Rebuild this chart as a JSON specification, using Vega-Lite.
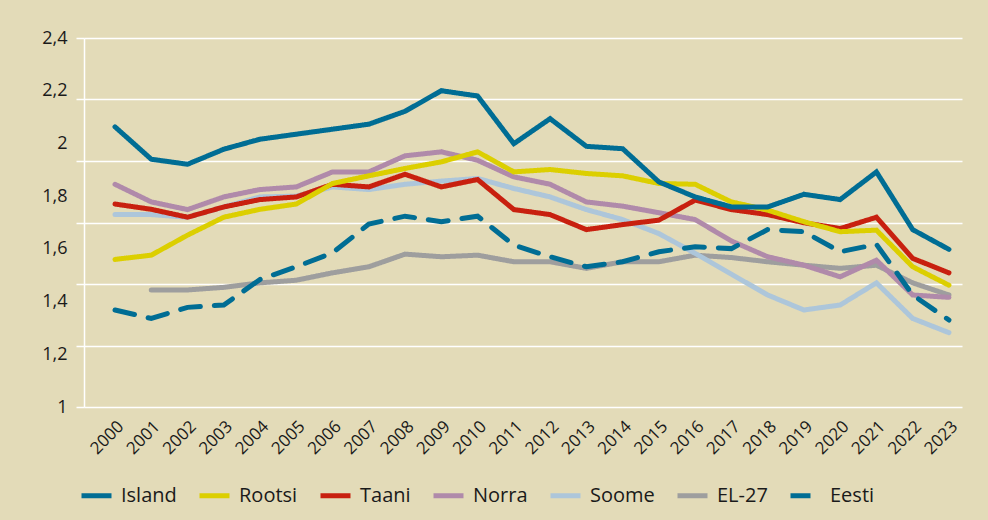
{
  "$schema": "https://vega.github.io/schema/vega-lite/v6.json",
  "width": 878,
  "height": 369,
  "autosize": {"type": "none"},
  "padding": {"left": 84, "top": 38, "right": 26, "bottom": 113},
  "background": "#e3dbb8",
  "config": {"view": {"stroke": null}, "font": "Open Sans"},
  "data": {"values": [
    {"country":"EL-27","year":2001,"value":1.444},{"country":"EL-27","year":2002,"value":1.444},{"country":"EL-27","year":2003,"value":1.454},{"country":"EL-27","year":2004,"value":1.471},{"country":"EL-27","year":2005,"value":1.481},{"country":"EL-27","year":2006,"value":1.509},{"country":"EL-27","year":2007,"value":1.532},{"country":"EL-27","year":2008,"value":1.58},{"country":"EL-27","year":2009,"value":1.57},{"country":"EL-27","year":2010,"value":1.576},{"country":"EL-27","year":2011,"value":1.551},{"country":"EL-27","year":2012,"value":1.551},{"country":"EL-27","year":2013,"value":1.526},{"country":"EL-27","year":2014,"value":1.551},{"country":"EL-27","year":2015,"value":1.551},{"country":"EL-27","year":2016,"value":1.576},{"country":"EL-27","year":2017,"value":1.567},{"country":"EL-27","year":2018,"value":1.551},{"country":"EL-27","year":2019,"value":1.538},{"country":"EL-27","year":2020,"value":1.526},{"country":"EL-27","year":2021,"value":1.538},{"country":"EL-27","year":2022,"value":1.471},{"country":"EL-27","year":2023,"value":1.425},
    {"country":"Soome","year":2000,"value":1.73},{"country":"Soome","year":2001,"value":1.73},{"country":"Soome","year":2002,"value":1.72},{"country":"Soome","year":2003,"value":1.759},{"country":"Soome","year":2004,"value":1.797},{"country":"Soome","year":2005,"value":1.8},{"country":"Soome","year":2006,"value":1.835},{"country":"Soome","year":2007,"value":1.825},{"country":"Soome","year":2008,"value":1.845},{"country":"Soome","year":2009,"value":1.857},{"country":"Soome","year":2010,"value":1.867},{"country":"Soome","year":2011,"value":1.829},{"country":"Soome","year":2012,"value":1.797},{"country":"Soome","year":2013,"value":1.749},{"country":"Soome","year":2014,"value":1.711},{"country":"Soome","year":2015,"value":1.658},{"country":"Soome","year":2016,"value":1.583},{"country":"Soome","year":2017,"value":1.504},{"country":"Soome","year":2018,"value":1.425},{"country":"Soome","year":2019,"value":1.368},{"country":"Soome","year":2020,"value":1.387},{"country":"Soome","year":2021,"value":1.471},{"country":"Soome","year":2022,"value":1.336},{"country":"Soome","year":2023,"value":1.282},
    {"country":"Norra","year":2000,"value":1.845},{"country":"Norra","year":2001,"value":1.778},{"country":"Norra","year":2002,"value":1.749},{"country":"Norra","year":2003,"value":1.797},{"country":"Norra","year":2004,"value":1.825},{"country":"Norra","year":2005,"value":1.835},{"country":"Norra","year":2006,"value":1.892},{"country":"Norra","year":2007,"value":1.892},{"country":"Norra","year":2008,"value":1.953},{"country":"Norra","year":2009,"value":1.968},{"country":"Norra","year":2010,"value":1.936},{"country":"Norra","year":2011,"value":1.873},{"country":"Norra","year":2012,"value":1.845},{"country":"Norra","year":2013,"value":1.778},{"country":"Norra","year":2014,"value":1.762},{"country":"Norra","year":2015,"value":1.737},{"country":"Norra","year":2016,"value":1.711},{"country":"Norra","year":2017,"value":1.63},{"country":"Norra","year":2018,"value":1.57},{"country":"Norra","year":2019,"value":1.538},{"country":"Norra","year":2020,"value":1.494},{"country":"Norra","year":2021,"value":1.557},{"country":"Norra","year":2022,"value":1.425},{"country":"Norra","year":2023,"value":1.416},
    {"country":"Taani","year":2000,"value":1.77},{"country":"Taani","year":2001,"value":1.75},{"country":"Taani","year":2002,"value":1.72},{"country":"Taani","year":2003,"value":1.759},{"country":"Taani","year":2004,"value":1.787},{"country":"Taani","year":2005,"value":1.797},{"country":"Taani","year":2006,"value":1.845},{"country":"Taani","year":2007,"value":1.835},{"country":"Taani","year":2008,"value":1.883},{"country":"Taani","year":2009,"value":1.835},{"country":"Taani","year":2010,"value":1.863},{"country":"Taani","year":2011,"value":1.749},{"country":"Taani","year":2012,"value":1.73},{"country":"Taani","year":2013,"value":1.673},{"country":"Taani","year":2014,"value":1.692},{"country":"Taani","year":2015,"value":1.709},{"country":"Taani","year":2016,"value":1.785},{"country":"Taani","year":2017,"value":1.749},{"country":"Taani","year":2018,"value":1.73},{"country":"Taani","year":2019,"value":1.699},{"country":"Taani","year":2020,"value":1.677},{"country":"Taani","year":2021,"value":1.72},{"country":"Taani","year":2022,"value":1.564},{"country":"Taani","year":2023,"value":1.509},
    {"country":"Rootsi","year":2000,"value":1.56},{"country":"Rootsi","year":2001,"value":1.576},{"country":"Rootsi","year":2002,"value":1.652},{"country":"Rootsi","year":2003,"value":1.72},{"country":"Rootsi","year":2004,"value":1.75},{"country":"Rootsi","year":2005,"value":1.77},{"country":"Rootsi","year":2006,"value":1.848},{"country":"Rootsi","year":2007,"value":1.877},{"country":"Rootsi","year":2008,"value":1.905},{"country":"Rootsi","year":2009,"value":1.93},{"country":"Rootsi","year":2010,"value":1.968},{"country":"Rootsi","year":2011,"value":1.892},{"country":"Rootsi","year":2012,"value":1.901},{"country":"Rootsi","year":2013,"value":1.886},{"country":"Rootsi","year":2014,"value":1.877},{"country":"Rootsi","year":2015,"value":1.848},{"country":"Rootsi","year":2016,"value":1.845},{"country":"Rootsi","year":2017,"value":1.778},{"country":"Rootsi","year":2018,"value":1.747},{"country":"Rootsi","year":2019,"value":1.703},{"country":"Rootsi","year":2020,"value":1.665},{"country":"Rootsi","year":2021,"value":1.671},{"country":"Rootsi","year":2022,"value":1.532},{"country":"Rootsi","year":2023,"value":1.462},
    {"country":"Island","year":2000,"value":2.063},{"country":"Island","year":2001,"value":1.94},{"country":"Island","year":2002,"value":1.921},{"country":"Island","year":2003,"value":1.978},{"country":"Island","year":2004,"value":2.016},{"country":"Island","year":2005,"value":2.035},{"country":"Island","year":2006,"value":2.054},{"country":"Island","year":2007,"value":2.073},{"country":"Island","year":2008,"value":2.122},{"country":"Island","year":2009,"value":2.2},{"country":"Island","year":2010,"value":2.18},{"country":"Island","year":2011,"value":1.999},{"country":"Island","year":2012,"value":2.094},{"country":"Island","year":2013,"value":1.989},{"country":"Island","year":2014,"value":1.98},{"country":"Island","year":2015,"value":1.854},{"country":"Island","year":2016,"value":1.797},{"country":"Island","year":2017,"value":1.759},{"country":"Island","year":2018,"value":1.759},{"country":"Island","year":2019,"value":1.807},{"country":"Island","year":2020,"value":1.787},{"country":"Island","year":2021,"value":1.892},{"country":"Island","year":2022,"value":1.673},{"country":"Island","year":2023,"value":1.598},
    {"country":"Eesti","year":2000,"value":1.368},{"country":"Eesti","year":2001,"value":1.336},{"country":"Eesti","year":2002,"value":1.378},{"country":"Eesti","year":2003,"value":1.387},{"country":"Eesti","year":2004,"value":1.484},{"country":"Eesti","year":2005,"value":1.532},{"country":"Eesti","year":2006,"value":1.585},{"country":"Eesti","year":2007,"value":1.694},{"country":"Eesti","year":2008,"value":1.724},{"country":"Eesti","year":2009,"value":1.703},{"country":"Eesti","year":2010,"value":1.724},{"country":"Eesti","year":2011,"value":1.614},{"country":"Eesti","year":2012,"value":1.57},{"country":"Eesti","year":2013,"value":1.532},{"country":"Eesti","year":2014,"value":1.551},{"country":"Eesti","year":2015,"value":1.589},{"country":"Eesti","year":2016,"value":1.608},{"country":"Eesti","year":2017,"value":1.601},{"country":"Eesti","year":2018,"value":1.673},{"country":"Eesti","year":2019,"value":1.665},{"country":"Eesti","year":2020,"value":1.589},{"country":"Eesti","year":2021,"value":1.617},{"country":"Eesti","year":2022,"value":1.425},{"country":"Eesti","year":2023,"value":1.33}
  ]},
  "mark": {"type": "line", "strokeWidth": 5, "strokeCap": "round"},
  "encoding": {
    "x": {
      "field": "year", "type": "quantitative",
      "scale": {"domain": [1999.145, 2023.36], "nice": false, "zero": false},
      "axis": {
        "values": [2000,2001,2002,2003,2004,2005,2006,2007,2008,2009,2010,2011,2012,2013,2014,2015,2016,2017,2018,2019,2020,2021,2022,2023],
        "format": "d", "labelAngle": -45, "labelFontSize": 17, "labelFont": "Open Sans",
        "labelColor": "#1a1a1a", "grid": false, "ticks": false, "domain": false,
        "title": null, "labelPadding": 11, "labelOverlap": false, "labelBound": false
      }
    },
    "y": {
      "field": "value", "type": "quantitative",
      "scale": {"domain": [1, 2.4], "nice": false, "zero": false},
      "axis": {
        "values": [1,1.2,1.2333333,1.4,1.4666667,1.6,1.7,1.8,1.9333333,2,2.1666667,2.2,2.4],
        "labelExpr": "(abs(datum.value*5 - round(datum.value*5)) < 0.001) ? replace(format(datum.value, '.1~f'), '.', ',') : ''",
        "labelOverlap": false, "labelBound": false,
        "labelFontSize": 18, "labelFont": "Open Sans", "labelColor": "#1a1a1a", "labelPadding": 9,
        "grid": true, "gridColor": "#ffffff", "gridWidth": 1.5,
        "gridOpacity": {"condition": {"test": "datum.value > 1.05 && datum.value < 2.35 && abs(datum.value*5 - round(datum.value*5)) < 0.001", "value": 0}, "value": 1},
        "ticks": true, "tickColor": "#ffffff", "tickSize": 8, "tickWidth": 1.5,
        "tickOpacity": {"condition": {"test": "datum.value > 1.05 && datum.value < 2.35 && abs(datum.value*5 - round(datum.value*5)) < 0.001", "value": 0}, "value": 1},
        "domain": true, "domainColor": "#ffffff", "domainWidth": 1.5,
        "title": null
      }
    },
    "color": {
      "field": "country", "type": "nominal",
      "scale": {
        "domain": ["Island","Rootsi","Taani","Norra","Soome","EL-27","Eesti"],
        "range": ["#006d94","#dccf00","#c8200f","#b08aaa","#adc6da","#9e9e9e","#006d94"]
      },
      "legend": {
        "title": null, "orient": "none", "legendX": -5, "legendY": 440, "direction": "horizontal",
        "symbolType": "stroke", "symbolStrokeWidth": 5, "symbolSize": 900,
        "labelFontSize": 20, "labelFont": "Open Sans", "labelColor": "#1a1a1a",
        "columnPadding": 12, "labelOffset": 7
      }
    },
    "strokeDash": {
      "field": "country", "type": "nominal",
      "scale": {
        "domain": ["Island","Rootsi","Taani","Norra","Soome","EL-27","Eesti"],
        "range": [[1,0],[1,0],[1,0],[1,0],[1,0],[1,0],[20,14]]
      },
      "legend": {
        "title": null, "orient": "none", "legendX": -5, "legendY": 440, "direction": "horizontal",
        "symbolType": "stroke", "symbolStrokeWidth": 5, "symbolSize": 900,
        "labelFontSize": 20, "labelFont": "Open Sans", "labelColor": "#1a1a1a",
        "columnPadding": 12, "labelOffset": 7
      }
    }
  }
}
